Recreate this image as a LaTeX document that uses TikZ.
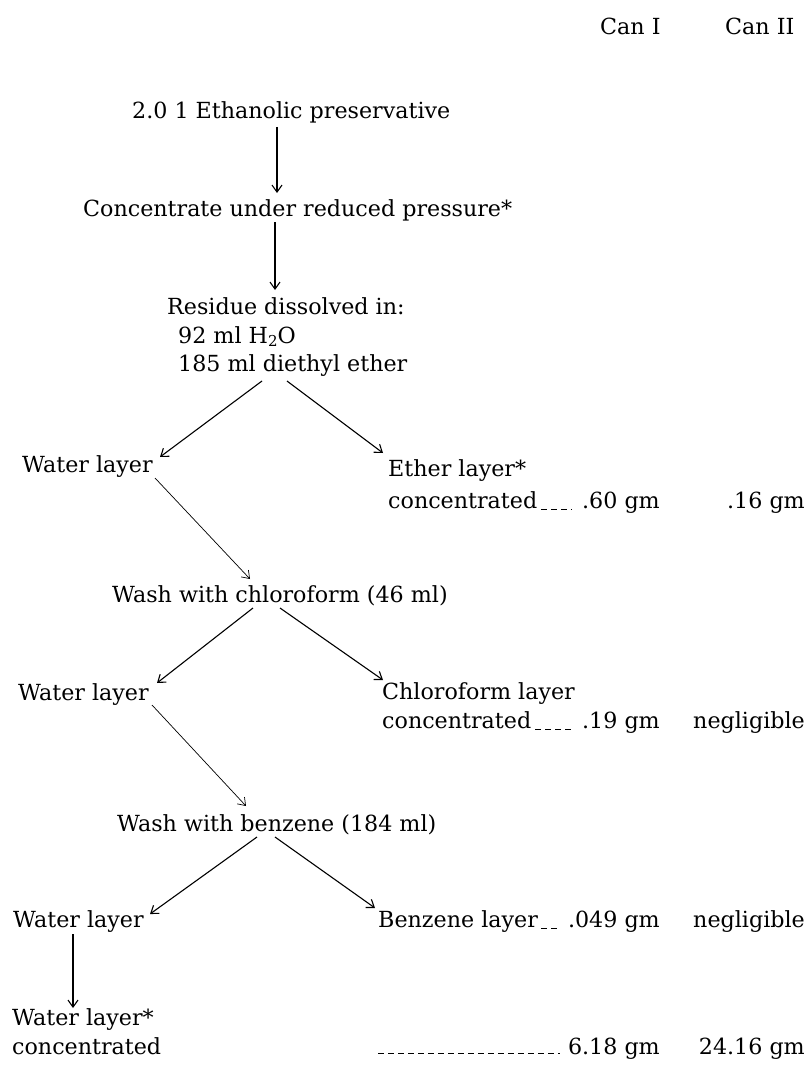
\documentclass[tikz,border=0pt]{standalone}
\usepackage{fontspec}
\setmainfont{DejaVu Serif}
\usetikzlibrary{arrows.meta,calc}
\begin{document}
\begin{tikzpicture}[x=1pt,y=-1pt,
  txt/.style={inner sep=0pt, anchor=base west, font=\fontsize{22.2}{28}\selectfont},
  num/.style={txt, anchor=base east},
  arr/.style={-{Straight Barb[length=7pt,width=10pt]}, line width=1.1pt},
  thinarr/.style={arr, line width=0.7pt},
  lead/.style={dash pattern=on 6pt off 4pt, line width=1pt}]
\fill[white] (0,0) rectangle (806,1070);
\useasboundingbox (0,0) rectangle (806,1070);
% headers
\node[txt] (can1) at (600,35) {Can I};
\node[txt] (can2) at (725,35) {Can II};
% main column
\node[txt] (title) at (132,119) {2.0 1 Ethanolic preservative};
\node[txt] (conc) at (83,216) {Concentrate under reduced pressure*};
\node[txt] (res) at (167,314) {Residue dissolved in:};
\node[txt] (h2o) at (178,343) {92 ml H\raisebox{-0.3ex}{\fontsize{15}{15}\selectfont 2}O};
\node[txt] (ether) at (178,371) {185 ml diethyl ether};
% level 1
\node[txt] (w1) at (22,472) {Water layer};
\node[txt] (etherl) at (388,476) {Ether layer*};
\node[txt] (conc1) at (388,508) {concentrated};
\node[num] (v11) at (660,508) {.60 gm};
\node[num] (v12) at (805,508) {.16 gm};
\node[txt] (wash1) at (112,602) {Wash with chloroform (46 ml)};
% level 2
\node[txt] (w2) at (18,700) {Water layer};
\node[txt] (chl) at (382,699) {Chloroform layer};
\node[txt] (conc2) at (382,728) {concentrated};
\node[num] (v21) at (660,728) {.19 gm};
\node[num] (v22) at (805,728) {negligible};
\node[txt] (wash2) at (117,831) {Wash with benzene (184 ml)};
% level 3
\node[txt] (w3) at (13,927) {Water layer};
\node[txt] (benz) at (378,927) {Benzene layer};
\node[num] (v31) at (660,927) {.049 gm};
\node[num] (v32) at (805,927) {negligible};
% level 4
\node[txt] (w4) at (12,1025) {Water layer*};
\node[txt] (conc4) at (12,1054) {concentrated};
\node[num] (v41) at (660,1054) {6.18 gm};
\node[num] (v42) at (805,1054) {24.16 gm};
\coordinate (ldst) at (benz.base west |- v41.base);
% arrows
\draw[arr] ($(title.base west)+(145,8)$) -- ($(conc.base west)+(194,-23)$);
\draw[arr] ($(conc.base west)+(192,6)$) -- ($(res.base west)+(108,-24)$);
\draw[arr] ($(ether.base west)+(84,10)$) -- ($(w1.base west)+(138,-15)$);
\draw[arr] ($(ether.base west)+(109,10)$) -- ($(etherl.base west)+(-5,-23)$);
\draw[thinarr] ($(w1.base west)+(133,6)$) -- ($(wash1.base west)+(138,-23)$);
\draw[arr] ($(wash1.base west)+(141,6)$) -- ($(w2.base west)+(139,-17)$);
\draw[arr] ($(wash1.base west)+(168,6)$) -- ($(chl.base west)+(1,-19)$);
\draw[thinarr] ($(w2.base west)+(134,5)$) -- ($(wash2.base west)+(129,-25)$);
\draw[arr] ($(wash2.base west)+(140,6)$) -- ($(w3.base west)+(137,-13)$);
\draw[arr] ($(wash2.base west)+(158,6)$) -- ($(benz.base west)+(-3,-19)$);
\draw[arr] ($(w3.base west)+(60,7)$) -- ($(w4.base west)+(61,-17)$);
% leaders
\draw[lead] ($(conc1.base east)+(4,1)$) -- ($(v11.base west)+(-10,1)$);
\draw[lead] ($(conc2.base east)+(4,1)$) -- ($(v21.base west)+(-10,1)$);
\draw[lead] ($(benz.base east)+(3,1)$) -- ($(v31.base west)+(-8,1)$);
\draw[lead] ($(ldst)+(0,-1)$) -- ($(v41.base west)+(-8,-1)$);
\end{tikzpicture}
\end{document}
